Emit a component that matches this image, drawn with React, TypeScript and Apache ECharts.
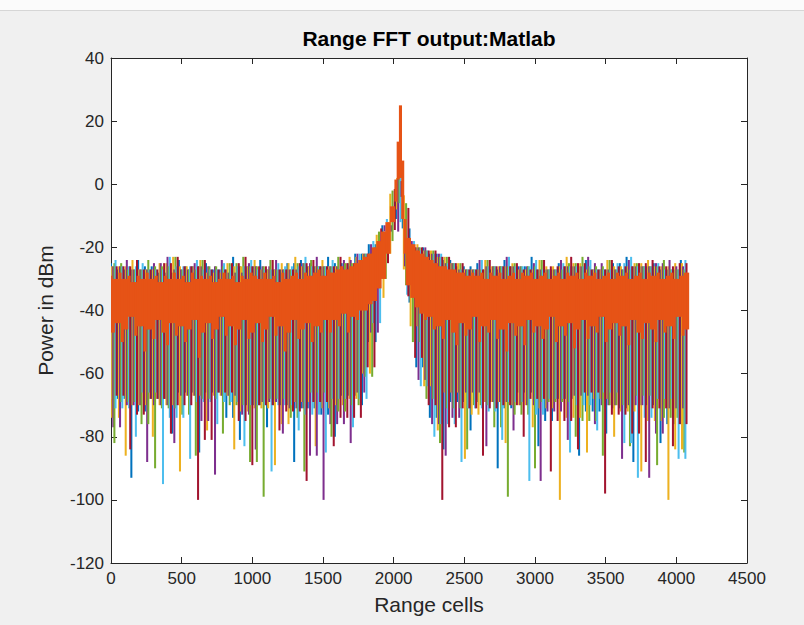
import React, { useEffect, useRef } from "react";
import * as echarts from "echarts";

const TITLE = "Range FFT output:Matlab";
const X_NAME = "Range cells";
const Y_NAME = "Power in dBm";
const X_MIN = 0;
const X_MAX = 4500;
const X_STEP = 500;
const Y_MIN = -120;
const Y_MAX = 40;
const Y_STEP = 20;

// each coloured trace is sampled every 48 range cells, starting at its own offset
const TRACE_STEP = 48;
const TRACE_OFFSETS = [0, 8, 16, 24, 32, 40];
// the last (orange) trace is sampled every 16 range cells
const LAST_STEP = 16;

const blueTrace = [
  -25, -68, -27, -93, -24, -72, -26, -68, -28, -79,
  -24, -66, -26, -85, -25, -66, -27, -74, -23, -81,
  -26, -70, -24, -77, -27, -70, -25, -88, -24, -71,
  -26, -73, -23, -80, -25, -67, -22, -70, -19, -50,
  -13, -18, -1, -11, -17, -58, -20, -74, -22, -84,
  -24, -69, -26, -78, -25, -69, -27, -90, -24, -71,
  -26, -66, -23, -83, -27, -75, -25, -68, -26, -86,
  -24, -72, -27, -79, -25, -71, -23, -88, -26, -70,
  -25, -82, -27, -76, -24,
];
const yellowTrace = [
  -74, -26, -86, -24, -70, -27, -80, -25, -70, -23,
  -91, -26, -67, -24, -78, -28, -67, -25, -84, -26,
  -72, -24, -71, -27, -89, -25, -76, -23, -69, -26,
  -83, -24, -71, -26, -70, -23, -68, -22, -60, -16,
  -36, -8, 2, -9, -45, -19, -64, -21, -78, -23,
  -66, -25, -87, -27, -73, -24, -69, -26, -82, -25,
  -70, -27, -77, -24, -71, -26, -100, -23, -74, -25,
  -85, -27, -68, -24, -80, -26, -72, -25, -91, -24,
  -75, -26, -100, -25, -84,
];
const purpleTrace = [
  -26, -77, -24, -70, -27, -88, -25, -70, -23, -82,
  -27, -67, -25, -75, -26, -92, -24, -67, -28, -73,
  -25, -84, -26, -69, -24, -79, -27, -71, -25, -86,
  -23, -100, -26, -76, -24, -82, -22, -66, -19, -47,
  -13, -15, 4, -26, -18, -62, -20, -76, -22, -86,
  -25, -74, -27, -66, -24, -83, -26, -69, -23, -78,
  -26, -70, -25, -94, -27, -72, -24, -81, -26, -67,
  -23, -76, -25, -70, -27, -87, -24, -70, -26, -93,
  -25, -79, -24, -71, -26,
];
const greenTrace = [
  -82, -25, -69, -27, -76, -24, -90, -26, -71, -23,
  -73, -27, -86, -24, -68, -26, -79, -25, -70, -23,
  -88, -26, -99, -24, -68, -27, -74, -25, -91, -24,
  -66, -26, -80, -23, -72, -25, -70, -22, -61, -15,
  -30, -6, 2, -14, -50, -20, -68, -21, -82, -23,
  -71, -25, -84, -27, -70, -24, -77, -26, -99, -25,
  -73, -26, -90, -24, -69, -27, -69, -25, -80, -23,
  -75, -26, -86, -24, -70, -27, -83, -25, -67, -26,
  -89, -24, -74, -27, -85,
];
const lightBlueTrace = [
  -24, -71, -26, -80, -25, -66, -27, -95, -23, -74,
  -26, -87, -24, -69, -27, -76, -25, -69, -26, -83,
  -24, -70, -27, -91, -25, -70, -26, -78, -23, -73,
  -26, -85, -24, -68, -27, -77, -22, -68, -18, -44,
  -11, -12, 12, -35, -18, -64, -21, -80, -22, -76,
  -25, -88, -27, -71, -24, -72, -26, -81, -23, -69,
  -26, -94, -24, -73, -27, -68, -25, -85, -26, -70,
  -24, -78, -27, -66, -25, -82, -23, -93, -26, -74,
  -25, -68, -27, -87, -24,
];
const darkRedTrace = [
  -67, -26, -84, -24, -73, -27, -68, -25, -79, -23,
  -70, -26, -100, -24, -81, -27, -66, -25, -75, -23,
  -89, -26, -70, -24, -78, -27, -72, -25, -94, -24,
  -69, -26, -83, -23, -74, -25, -74, -22, -58, -14,
  -25, -4, 1, -16, -55, -20, -70, -21, -100, -23,
  -77, -25, -71, -27, -86, -24, -71, -26, -70, -25,
  -80, -27, -68, -24, -91, -26, -75, -23, -84, -25,
  -66, -27, -98, -24, -73, -26, -79, -25, -88, -24,
  -71, -26, -83, -25, -76,
];
const orangeTrace = [
  -29, -47, -30, -44, -28, -50, -30, -46, -29, -42, -31, -48, -29, -45, -30, -53,
  -28, -46, -30, -49, -29, -43, -31, -47, -29, -51, -30, -44, -28, -48, -30, -45,
  -29, -50, -31, -46, -28, -43, -30, -55, -29, -47, -30, -44, -29, -49, -31, -46,
  -30, -42, -28, -48, -30, -45, -29, -51, -31, -46, -29, -43, -30, -49, -28, -47,
  -29, -44, -30, -50, -28, -46, -30, -42, -29, -48, -31, -45, -28, -53, -30, -47,
  -29, -43, -28, -49, -30, -46, -28, -44, -29, -50, -28, -45, -27, -47, -29, -43,
  -27, -47, -28, -43, -27, -45, -26, -41, -27, -47, -26, -42, -25, -43, -24, -40,
  -23, -40, -22, -38, -20, -37, -18, -33, -15, -30, -12, -22, -7, -12, 1, 2,
  25, -10, -12, -32, -17, -36, -19, -39, -21, -41, -22, -43, -23, -42, -24, -46,
  -25, -45, -26, -49, -26, -43, -27, -47, -27, -51, -28, -44, -28, -48, -29, -46,
  -28, -42, -29, -50, -28, -45, -30, -47, -28, -43, -29, -49, -28, -46, -30, -53,
  -29, -44, -28, -48, -30, -45, -28, -51, -29, -43, -28, -47, -30, -45, -29, -49,
  -28, -46, -30, -42, -29, -50, -28, -45, -30, -48, -28, -44, -29, -52, -28, -46,
  -30, -43, -28, -49, -29, -45, -28, -47, -30, -42, -29, -50, -28, -46, -30, -44,
  -28, -48, -29, -45, -28, -51, -30, -43, -29, -47, -28, -49, -30, -44, -28, -46,
  -29, -50, -28, -43, -30, -47, -29, -45, -28, -49, -30, -42, -29, -48, -28, -46,
];

const TRACES = [
  { values: blueTrace, color: "#0072BD" },
  { values: yellowTrace, color: "#EDB120" },
  { values: purpleTrace, color: "#7E2F8E" },
  { values: greenTrace, color: "#77AC30" },
  { values: lightBlueTrace, color: "#4DBEEE" },
  { values: darkRedTrace, color: "#A2142F" },
];
const LAST_COLOR = "#E65316";

const FONT = '"Liberation Sans", Arial, Helvetica, sans-serif';
const AXIS_COLOR = "#262626";

// vertical extent a plotted trace covers in the pixel column of sample i
function spanOf(vals: number[], i: number): [number, number] {
  const v = vals[i];
  const nb: number[] = [];
  if (i > 0) nb.push(vals[i - 1]);
  if (i < vals.length - 1) nb.push(vals[i + 1]);
  const hiN = Math.max(...nb);
  const loN = Math.min(...nb);
  if (v <= loN) return [v, loN];
  if (v >= hiN) return [hiN, v];
  return [(v + loN) / 2, (v + hiN) / 2];
}

const toColumns = (vals: number[], start: number, step: number) =>
  vals.map((_, i) => {
    const [lo, hi] = spanOf(vals, i);
    return [start + i * step, lo, hi];
  });

function traceSeries(data: number[][], color: string, cellWidth: number, pad: number) {
  return {
    type: "custom",
    data,
    silent: true,
    clip: true,
    encode: { x: 0, y: [1, 2] },
    itemStyle: { color },
    renderItem: (_params: any, api: any) => {
      const x = api.value(0);
      const top = api.coord([x, api.value(2)]);
      const bot = api.coord([x, api.value(1)]);
      const w = api.size([cellWidth, 0])[0] + pad;
      return {
        type: "rect",
        shape: { x: top[0] - w / 2, y: top[1], width: w, height: Math.max(bot[1] - top[1], 1) },
        style: { fill: color },
      };
    },
  };
}

function buildOption() {
  const axisLine = { show: true, onZero: false, lineStyle: { color: AXIS_COLOR, width: 1 } };
  const axisTick = { show: true, inside: true, length: 6, lineStyle: { color: AXIS_COLOR, width: 1 } };
  const series: any[] = TRACES.map((t, k) =>
    traceSeries(toColumns(t.values, TRACE_OFFSETS[k], TRACE_STEP), t.color, TRACE_STEP / TRACE_OFFSETS.length, 0.9)
  );
  series.push(traceSeries(toColumns(orangeTrace, 0, LAST_STEP), LAST_COLOR, LAST_STEP, 0.8));
  return {
    animation: false,
    backgroundColor: "#f0f0f0",
    grid: {
      left: 111,
      top: 58,
      right: 57,
      bottom: 62,
      show: true,
      backgroundColor: "#ffffff",
      borderWidth: 0,
    },
    graphic: [
      { type: "rect", shape: { x: 0, y: 0, width: 804, height: 10 }, style: { fill: "#fbfbfb" }, silent: true },
      { type: "line", shape: { x1: 0, y1: 10.5, x2: 804, y2: 10.5 }, style: { stroke: "#d6d6d6", lineWidth: 1 }, silent: true },
      {
        type: "text",
        x: 429,
        y: 38,
        silent: true,
        style: {
          text: TITLE,
          font: `bold 21px ${FONT}`,
          fill: "#000000",
          align: "center",
          verticalAlign: "middle",
        },
      },
    ],
    xAxis: [
      {
        type: "value",
        min: X_MIN,
        max: X_MAX,
        interval: X_STEP,
        position: "bottom",
        name: X_NAME,
        nameLocation: "middle",
        nameGap: 31,
        nameTextStyle: { fontSize: 21, color: AXIS_COLOR, fontFamily: FONT },
        axisLine,
        axisTick,
        axisLabel: { color: AXIS_COLOR, fontSize: 17, margin: 7, fontFamily: FONT, formatter: (v: number) => String(v) },
        splitLine: { show: false },
      },
      {
        type: "value",
        min: X_MIN,
        max: X_MAX,
        interval: X_STEP,
        position: "top",
        axisLine,
        axisTick,
        axisLabel: { show: false },
        splitLine: { show: false },
      },
    ],
    yAxis: [
      {
        type: "value",
        min: Y_MIN,
        max: Y_MAX,
        interval: Y_STEP,
        position: "left",
        name: Y_NAME,
        nameLocation: "middle",
        nameGap: 55,
        nameTextStyle: { fontSize: 21, color: AXIS_COLOR, fontFamily: FONT },
        axisLine,
        axisTick,
        axisLabel: { color: AXIS_COLOR, fontSize: 17, margin: 7, fontFamily: FONT, formatter: (v: number) => String(v) },
        splitLine: { show: false },
      },
      {
        type: "value",
        min: Y_MIN,
        max: Y_MAX,
        interval: Y_STEP,
        position: "right",
        axisLine,
        axisTick,
        axisLabel: { show: false },
        splitLine: { show: false },
      },
    ],
    series,
  };
}

export default function App() {
  const ref = useRef<HTMLDivElement>(null);
  useEffect(() => {
    document.body.style.margin = "0";
    const chart = echarts.init(ref.current!, null, { renderer: "svg" });
    chart.setOption(buildOption() as any);
    return () => chart.dispose();
  }, []);
  return <div ref={ref} style={{ width: 804, height: 625 }} />;
}
